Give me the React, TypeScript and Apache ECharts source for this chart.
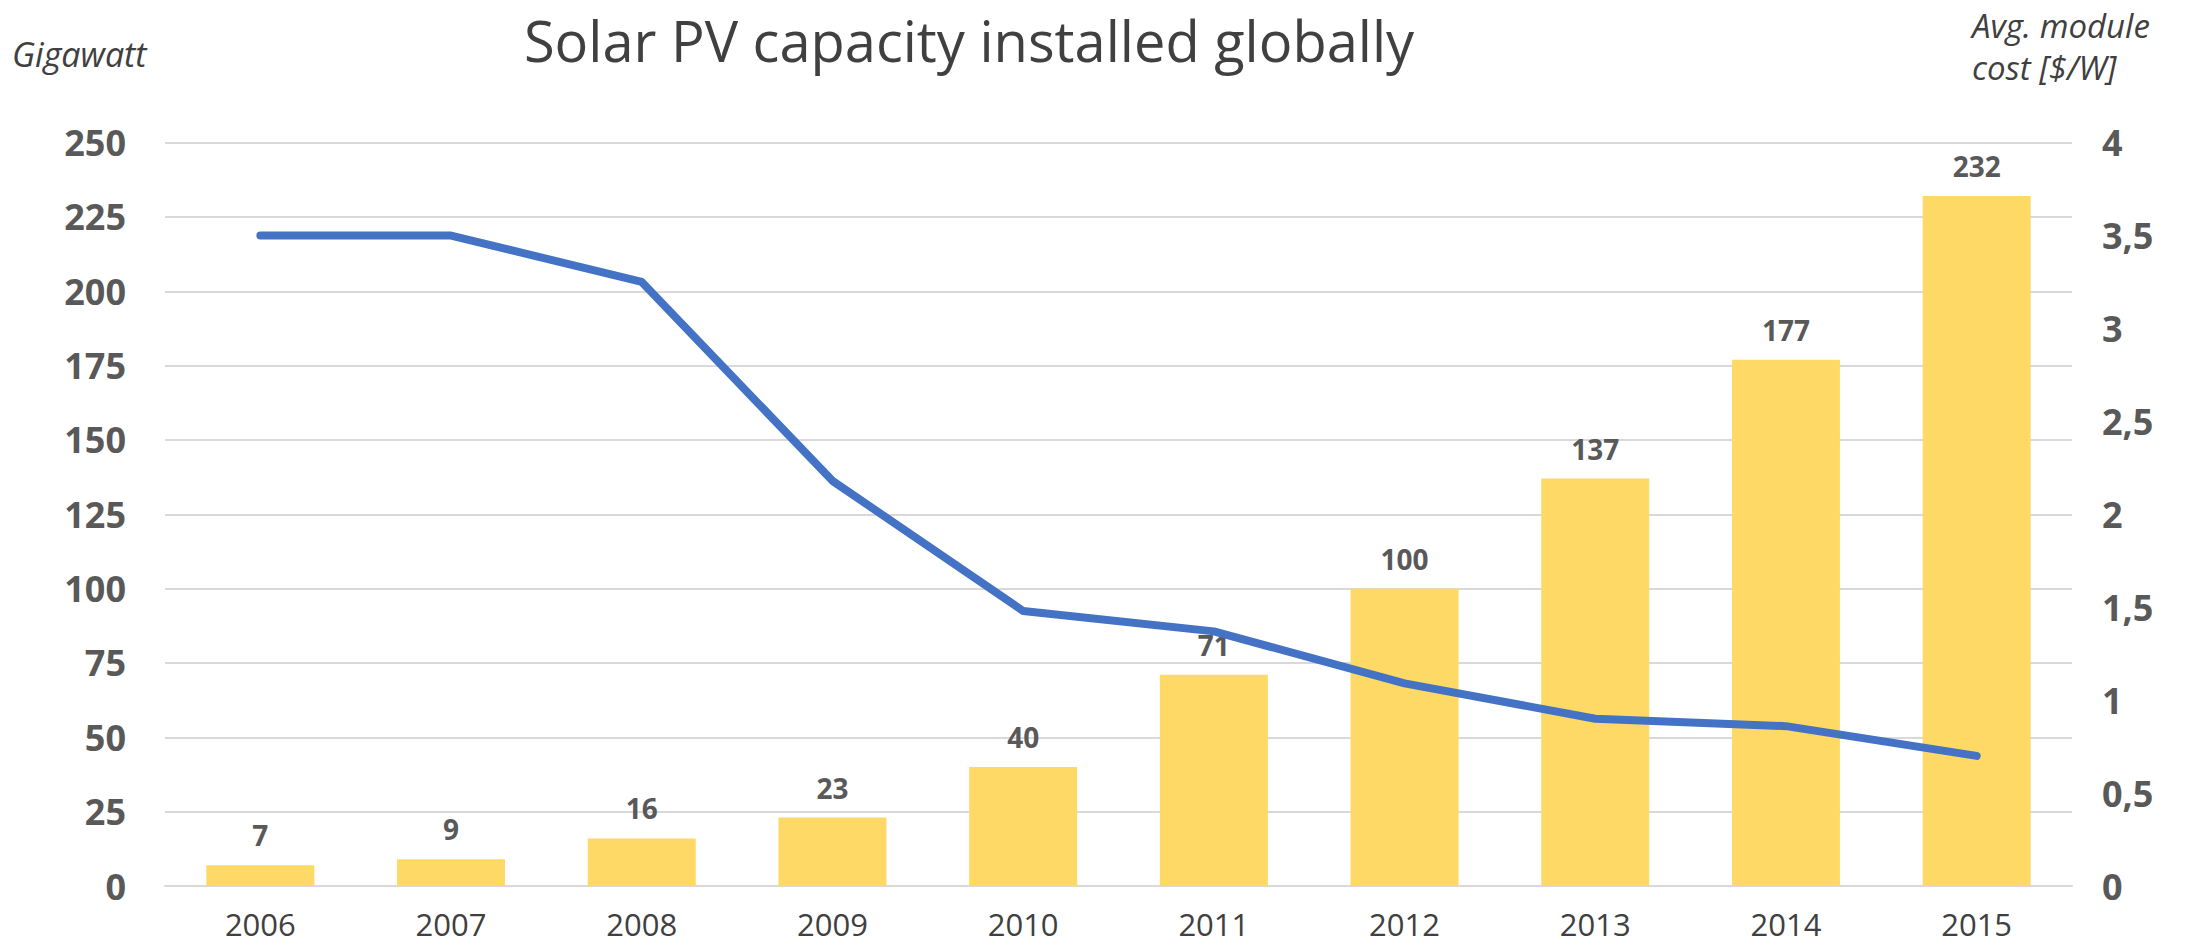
import React, { useEffect, useRef } from "react";
import * as echarts from "echarts";

const years = ["2006", "2007", "2008", "2009", "2010", "2011", "2012", "2013", "2014", "2015"];
const capacityGW = [7, 9, 16, 23, 40, 71, 100, 137, 177, 232];
const moduleCost = [3.5, 3.5, 3.25, 2.18, 1.48, 1.37, 1.09, 0.9, 0.86, 0.7];
const titleText = "Solar PV capacity installed globally";
const leftAxisName = "Gigawatt";
const rightAxisName = ["Avg. module", "cost [$/W]"];

const FONT = "'Open Sans', 'Noto Sans', sans-serif";
const TXT = "#595959";
const DARK = "#404040";

export default function App() {
  const ref = useRef<HTMLDivElement>(null);
  useEffect(() => {
    if (!ref.current) return;
    const chart = echarts.init(ref.current, null, { renderer: "svg" });
    chart.setOption({
      animation: false,
      backgroundColor: "#ffffff",
      grid: { left: 165, right: 120, top: 142.6, bottom: 66, containLabel: false },
      graphic: [
        {
          type: "text",
          x: 969,
          y: 40,
          style: { text: titleText, font: `56px ${FONT}`, fill: DARK, textAlign: "center", textVerticalAlign: "middle" },
        },
        {
          type: "text",
          x: 12,
          y: 54,
          style: { text: leftAxisName, font: `italic 34px ${FONT}`, fill: DARK, textAlign: "left", textVerticalAlign: "middle" },
        },
        {
          type: "text",
          x: 1972,
          y: 25,
          style: { text: rightAxisName[0], font: `italic 33px ${FONT}`, fill: DARK, textAlign: "left", textVerticalAlign: "middle" },
        },
        {
          type: "text",
          x: 1972,
          y: 67,
          style: { text: rightAxisName[1], font: `italic 33px ${FONT}`, fill: DARK, textAlign: "left", textVerticalAlign: "middle" },
        },
      ],
      xAxis: {
        type: "category",
        data: years,
        axisLine: { show: true, lineStyle: { color: "#D9D9D9", width: 2 } },
        axisTick: { show: false },
        axisLabel: { color: DARK, fontFamily: FONT, fontSize: 31, margin: 22 },
      },
      yAxis: [
        {
          type: "value",
          min: 0,
          max: 250,
          interval: 25,
          axisLine: { show: false },
          axisTick: { show: false },
          splitLine: { lineStyle: { color: "#D9D9D9", width: 2 } },
          axisLabel: { color: TXT, fontFamily: FONT, fontSize: 36, fontWeight: "bold", margin: 39 },
        },
        {
          type: "value",
          min: 0,
          max: 4,
          interval: 0.5,
          axisLine: { show: false },
          axisTick: { show: false },
          splitLine: { show: false },
          axisLabel: {
            color: TXT,
            fontFamily: FONT,
            fontSize: 36,
            fontWeight: "bold",
            margin: 30,
            formatter: (v: number) => String(v).replace(".", ","),
          },
        },
      ],
      series: [
        {
          type: "bar",
          data: capacityGW,
          yAxisIndex: 0,
          barWidth: 108,
          itemStyle: { color: "#FFD966" },
          label: {
            show: true,
            position: "top",
            distance: 16,
            color: TXT,
            fontFamily: FONT,
            fontSize: 28,
            fontWeight: "bold",
          },
        },
        {
          type: "line",
          data: moduleCost,
          yAxisIndex: 1,
          symbol: "none",
          lineStyle: { color: "#4472C4", width: 8, cap: "round", join: "round" },
          z: 5,
        },
      ],
    });
    return () => chart.dispose();
  }, []);
  return <div ref={ref} style={{ position: "fixed", left: 0, top: 0, width: 2192, height: 952 }} />;
}
